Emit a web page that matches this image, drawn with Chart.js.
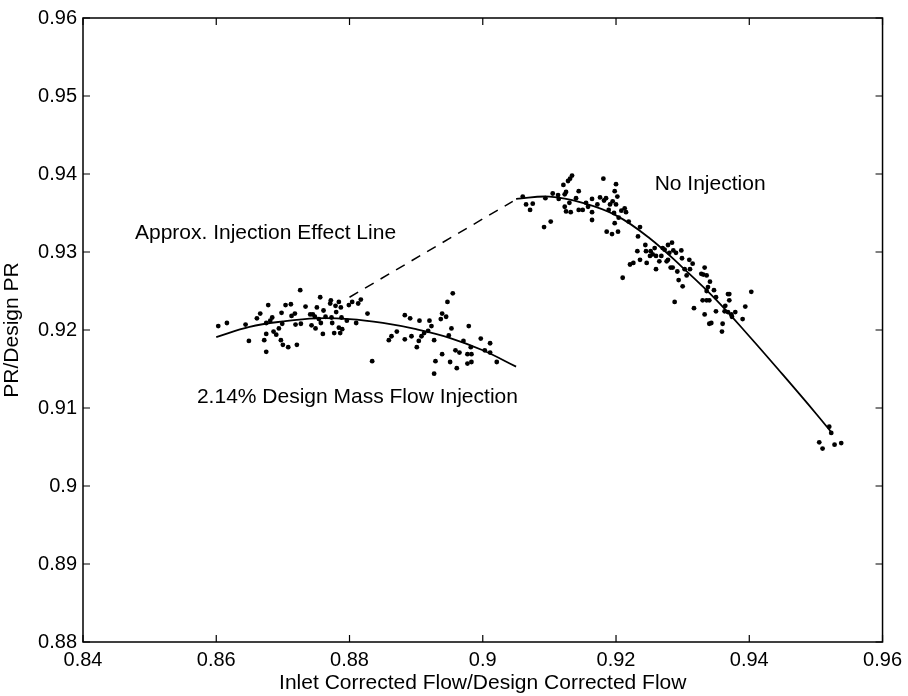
<!DOCTYPE html>
<html>
<head>
<meta charset="utf-8">
<title>PR vs Inlet Corrected Flow</title>
<script src="https://cdn.jsdelivr.net/npm/chart.js"></script>
<style>
    body { margin: 0; background: #fff; }
    #wrap { width: 908px; height: 696px; }
</style>
</head>
<body>
<div id="wrap"><canvas id="prChart" width="908" height="696"></canvas></div>
<script>
// tick values
const xTicks = [0.84, 0.86, 0.88, 0.90, 0.92, 0.94, 0.96];
const yTicks = [0.88, 0.89, 0.90, 0.91, 0.92, 0.93, 0.94, 0.95, 0.96];

// 2.14% design mass flow injection - measured points
const injFlow = [0.8603, 0.8616, 0.8644, 0.8649, 0.8661, 0.8666, 0.8678, 0.8672, 0.8675, 0.8675,
    0.8681, 0.8675, 0.8684, 0.8686, 0.8690, 0.8694, 0.8697, 0.8699, 0.8698, 0.8700,
    0.8704, 0.8708, 0.8712, 0.8713, 0.8718, 0.8721, 0.8719, 0.8726, 0.8727, 0.8734,
    0.8741, 0.8743, 0.8745, 0.8748, 0.8749, 0.8751, 0.8756, 0.8754, 0.8757, 0.8760,
    0.8761, 0.8764, 0.8772, 0.8771, 0.8773, 0.8774, 0.8777, 0.8779, 0.8780, 0.8784,
    0.8787, 0.8788, 0.8784, 0.8789, 0.8786, 0.8796, 0.8799, 0.8804, 0.8810, 0.8813,
    0.8817, 0.8827, 0.8834, 0.8859, 0.8863, 0.8871, 0.8883, 0.8883, 0.8891, 0.8893,
    0.8901, 0.8905, 0.8904, 0.8908, 0.8912, 0.8918, 0.8920, 0.8923, 0.8927, 0.8927,
    0.8929, 0.8937, 0.8939, 0.8939, 0.8945, 0.8947, 0.8949, 0.8951, 0.8953, 0.8955,
    0.8959, 0.8961, 0.8965, 0.8971, 0.8977, 0.8977, 0.8979, 0.8982, 0.8983, 0.8983,
    0.8997, 0.9003, 0.9011, 0.9011, 0.9021];
const injPR = [0.9205, 0.9209, 0.9207, 0.9186, 0.9215, 0.9221, 0.9232, 0.9187, 0.9195, 0.9209,
    0.9212, 0.9172, 0.9216, 0.9198, 0.9194, 0.9202, 0.9187, 0.9208, 0.9222, 0.9181,
    0.9232, 0.9178, 0.9233, 0.9218, 0.9221, 0.9181, 0.9207, 0.9251, 0.9208, 0.9230,
    0.9220, 0.9206, 0.9220, 0.9217, 0.9202, 0.9229, 0.9242, 0.9214, 0.9209, 0.9195,
    0.9225, 0.9217, 0.9238, 0.9234, 0.9216, 0.9209, 0.9196, 0.9231, 0.9223, 0.9236,
    0.9229, 0.9216, 0.9203, 0.9201, 0.9196, 0.9212, 0.9232, 0.9236, 0.9209, 0.9234,
    0.9239, 0.9221, 0.9160, 0.9187, 0.9192, 0.9198, 0.9219, 0.9188, 0.9215, 0.9192,
    0.9178, 0.9212, 0.9186, 0.9192, 0.9196, 0.9199, 0.9212, 0.9205, 0.9187, 0.9144,
    0.9160, 0.9214, 0.9221, 0.9169, 0.9217, 0.9236, 0.9193, 0.9159, 0.9202, 0.9247,
    0.9174, 0.9151, 0.9171, 0.9186, 0.9169, 0.9157, 0.9205, 0.9178, 0.9169, 0.9159,
    0.9189, 0.9174, 0.9183, 0.9171, 0.9159];

// no injection - measured points
const noInjFlow = [0.9060, 0.9065, 0.9071, 0.9075, 0.9092, 0.9094, 0.9102, 0.9105, 0.9113, 0.9114,
    0.9121, 0.9123, 0.9125, 0.9123, 0.9125, 0.9128, 0.9131, 0.9134, 0.9132, 0.9130,
    0.9140, 0.9144, 0.9144, 0.9150, 0.9155, 0.9158, 0.9164, 0.9164, 0.9164, 0.9172,
    0.9176, 0.9181, 0.9182, 0.9185, 0.9186, 0.9189, 0.9191, 0.9194, 0.9195, 0.9197,
    0.9198, 0.9200, 0.9200, 0.9198, 0.9202, 0.9203, 0.9204, 0.9208, 0.9213, 0.9215,
    0.9210, 0.9219, 0.9221, 0.9226, 0.9232, 0.9233, 0.9236, 0.9236, 0.9244, 0.9245,
    0.9246, 0.9251, 0.9252, 0.9255, 0.9258, 0.9260, 0.9260, 0.9265, 0.9268, 0.9273,
    0.9278, 0.9278, 0.9270, 0.9284, 0.9276, 0.9280, 0.9282, 0.9286, 0.9285, 0.9290,
    0.9292, 0.9294, 0.9298, 0.9299, 0.9300, 0.9303, 0.9310, 0.9311, 0.9315, 0.9306,
    0.9288, 0.9317, 0.9328, 0.9331, 0.9333, 0.9336, 0.9341, 0.9338, 0.9336, 0.9330,
    0.9336, 0.9340, 0.9347, 0.9350, 0.9333, 0.9340, 0.9343, 0.9350, 0.9360, 0.9359,
    0.9363, 0.9364, 0.9368, 0.9370, 0.9370, 0.9368, 0.9373, 0.9379, 0.9374, 0.9390,
    0.9394, 0.9403, 0.9520, 0.9523, 0.9510, 0.9528, 0.9538, 0.9505];
const noInjPR = [0.9371, 0.9361, 0.9354, 0.9362, 0.9332, 0.9369, 0.9339, 0.9375, 0.9373, 0.9368,
    0.9386, 0.9374, 0.9377, 0.9358, 0.9352, 0.9391, 0.9394, 0.9398, 0.9351, 0.9363,
    0.9369, 0.9378, 0.9354, 0.9354, 0.9363, 0.9358, 0.9341, 0.9368, 0.9351, 0.9361,
    0.9370, 0.9394, 0.9366, 0.9369, 0.9326, 0.9354, 0.9361, 0.9323, 0.9365, 0.9350,
    0.9378, 0.9387, 0.9361, 0.9337, 0.9371, 0.9326, 0.9344, 0.9353, 0.9356, 0.9351,
    0.9267, 0.9339, 0.9284, 0.9286, 0.9301, 0.9320, 0.9332, 0.9290, 0.9309, 0.9301,
    0.9286, 0.9295, 0.9301, 0.9297, 0.9305, 0.9278, 0.9295, 0.9288, 0.9295, 0.9303,
    0.9309, 0.9290, 0.9305, 0.9312, 0.9288, 0.9299, 0.9280, 0.9302, 0.9280, 0.9299,
    0.9275, 0.9264, 0.9302, 0.9292, 0.9256, 0.9278, 0.9290, 0.9278, 0.9285, 0.9270,
    0.9236, 0.9228, 0.9272, 0.9271, 0.9280, 0.9270, 0.9262, 0.9255, 0.9250, 0.9238,
    0.9238, 0.9238, 0.9251, 0.9242, 0.9220, 0.9208, 0.9209, 0.9224, 0.9208, 0.9198,
    0.9224, 0.9231, 0.9246, 0.9246, 0.9238, 0.9223, 0.9220, 0.9223, 0.9217, 0.9214,
    0.9230, 0.9249, 0.9076, 0.9068, 0.9048, 0.9053, 0.9055, 0.9056];

// fitted curves
const injFitFlow = [0.860, 0.865, 0.870, 0.875, 0.880, 0.885, 0.890, 0.895, 0.900, 0.905];
const injFitPR = [0.9191, 0.9204, 0.9211, 0.9215, 0.9214, 0.9209, 0.9201, 0.9190, 0.9174, 0.9153];
const noInjFitFlow = [0.905, 0.910, 0.915, 0.920, 0.925, 0.930, 0.935, 0.940, 0.945, 0.950, 0.9525];
const noInjFitPR = [0.9368, 0.9371, 0.9363, 0.9347, 0.9318, 0.9280, 0.9239, 0.9192, 0.9143, 0.9093, 0.9067];

// approx. injection effect line (dashed)
const effectFlow = [0.880, 0.9045];
const effectPR = [0.9242, 0.9365];

// text labels (data coords, left edge / middle)
const notes = [
    { text: 'No Injection', x: 0.9258, y: 0.9387 },
    { text: 'Approx. Injection Effect Line', x: 0.8478, y: 0.9324 },
    { text: '2.14% Design Mass Flow Injection', x: 0.8571, y: 0.9114 }
];

const FONT = '"Liberation Sans", Arial, Helvetica, sans-serif';

function toPoints(xs, ys) {
    return xs.map((x, i) => ({ x: x, y: ys[i] }));
}

function tickLabel(v) {
    return String(Number(v.toFixed(2)));
}

// box around the plot, inward ticks on all sides, text notes
const matlabFrame = {
    id: 'matlabFrame',
    afterDraw(chart) {
        const ctx = chart.ctx;
        const a = chart.chartArea;
        const xs = chart.scales.x;
        const ys = chart.scales.y;
        const len = 7;
        ctx.save();
        ctx.strokeStyle = '#000';
        ctx.lineWidth = 1.5;
        ctx.strokeRect(a.left, a.top, a.right - a.left, a.bottom - a.top);
        ctx.lineWidth = 1.2;
        ctx.beginPath();
        xTicks.forEach(v => {
            const px = xs.getPixelForValue(v);
            ctx.moveTo(px, a.bottom); ctx.lineTo(px, a.bottom - len);
            ctx.moveTo(px, a.top); ctx.lineTo(px, a.top + len);
        });
        yTicks.forEach(v => {
            const py = ys.getPixelForValue(v);
            ctx.moveTo(a.left, py); ctx.lineTo(a.left + len, py);
            ctx.moveTo(a.right, py); ctx.lineTo(a.right - len, py);
        });
        ctx.stroke();

        ctx.fillStyle = '#000';
        ctx.font = '21px ' + FONT;
        ctx.textBaseline = 'middle';
        ctx.textAlign = 'left';
        notes.forEach(n => {
            ctx.fillText(n.text, xs.getPixelForValue(n.x), ys.getPixelForValue(n.y));
        });
        ctx.restore();
    }
};

document.addEventListener('DOMContentLoaded', function() {
    const ctx = document.getElementById('prChart').getContext('2d');

    const data = {
        datasets: [{
            label: 'No Injection',
            data: toPoints(noInjFlow, noInjPR),
            pointRadius: 2.4,
            pointBackgroundColor: '#000',
            pointBorderWidth: 0,
            showLine: false
        }, {
            label: '2.14% Design Mass Flow Injection',
            data: toPoints(injFlow, injPR),
            pointRadius: 2.4,
            pointBackgroundColor: '#000',
            pointBorderWidth: 0,
            showLine: false
        }, {
            label: 'No Injection fit',
            data: toPoints(noInjFitFlow, noInjFitPR),
            showLine: true,
            pointRadius: 0,
            borderColor: '#000',
            borderWidth: 1.8,
            tension: 0.4
        }, {
            label: 'Injection fit',
            data: toPoints(injFitFlow, injFitPR),
            showLine: true,
            pointRadius: 0,
            borderColor: '#000',
            borderWidth: 1.8,
            tension: 0.4
        }, {
            label: 'Approx. Injection Effect Line',
            data: toPoints(effectFlow, effectPR),
            showLine: true,
            pointRadius: 0,
            borderColor: '#000',
            borderWidth: 1.5,
            borderDash: [10, 8]
        }]
    };

    const options = {
        responsive: false,
        animation: false,
        layout: { padding: { top: 16, right: 25, left: 0, bottom: 0 } },
        plugins: {
            legend: { display: false },
            tooltip: { enabled: false }
        },
        scales: {
            x: {
                type: 'linear',
                min: 0.84,
                max: 0.96,
                afterBuildTicks: scale => { scale.ticks = xTicks.map(v => ({ value: v })); },
                afterFit: scale => { scale.height = 54; },
                grid: { display: false, drawTicks: false },
                border: { display: false },
                ticks: {
                    color: '#000',
                    padding: 6,
                    font: { family: FONT, size: 20 },
                    callback: v => tickLabel(v)
                },
                title: {
                    display: true,
                    text: 'Inlet Corrected Flow/Design Corrected Flow',
                    color: '#000',
                    font: { family: FONT, size: 21 },
                    padding: { top: 0, bottom: 0 }
                }
            },
            y: {
                type: 'linear',
                min: 0.88,
                max: 0.96,
                afterBuildTicks: scale => { scale.ticks = yTicks.map(v => ({ value: v })); },
                afterFit: scale => { scale.width = 83; },
                grid: { display: false, drawTicks: false },
                border: { display: false },
                ticks: {
                    color: '#000',
                    padding: 6,
                    font: { family: FONT, size: 20 },
                    callback: v => tickLabel(v)
                },
                title: {
                    display: true,
                    text: 'PR/Design PR',
                    color: '#000',
                    font: { family: FONT, size: 21 },
                    padding: { top: 0, bottom: 2 }
                }
            }
        }
    };

    new Chart(ctx, {
        type: 'scatter',
        data: data,
        options: options,
        plugins: [matlabFrame]
    });
});
</script>
</body>
</html>
